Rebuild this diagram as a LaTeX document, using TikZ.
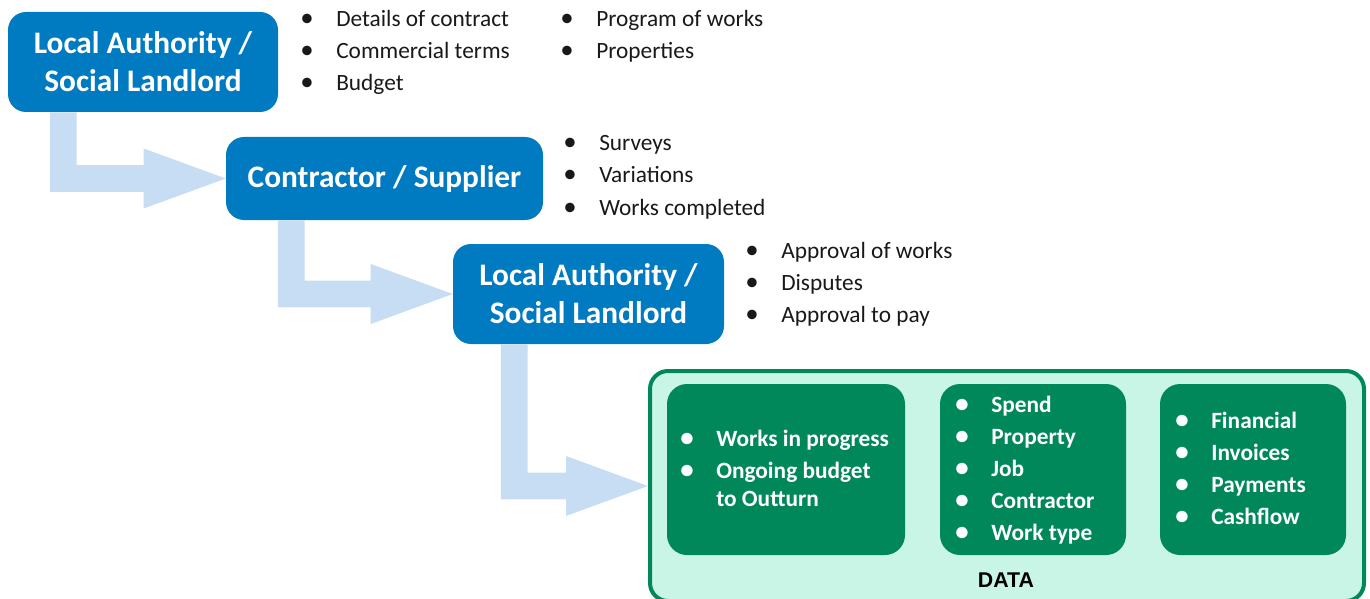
\documentclass[tikz,border=0pt]{standalone}
\usepackage{fontspec}
\setmainfont{Carlito}
\newfontfamily\datafont{Liberation Sans}
\usepackage{xcolor}
\usepackage{tikz}
\usetikzlibrary{calc,positioning}
\definecolor{lablue}{RGB}{0,122,192}
\definecolor{flowblue}{RGB}{198,221,243}
\definecolor{dkgreen}{RGB}{0,135,90}
\definecolor{ltgreen}{RGB}{201,245,230}
\newcommand{\bul}{\makebox[27pt][l]{\scalebox{1.15}{\textbullet}}}
% L-shaped block arrow: from top of shaft (#1) to tip (#2)
\newcommand{\blockarrow}[2]{%
  \fill[flowblue] let \p1=(#1), \p2=(#2) in
    (\x1-10.1pt,\y1) -- (\x1+10.1pt,\y1) -- (\x1+10.1pt,\y2+10.1pt) -- (\x2-61.5pt,\y2+10.1pt)
    -- (\x2-61.5pt,\y2+22.5pt) -- (\x2,\y2) -- (\x2-61.5pt,\y2-22.5pt) -- (\x2-61.5pt,\y2-10.1pt)
    -- (\x1-10.1pt,\y2-10.1pt) -- cycle;}

\begin{document}
\begin{tikzpicture}[x=0.75pt,y=-0.75pt,
  party/.style={fill=lablue,rounded corners=13.5pt,text=white,align=center,
    font=\fontsize{23.5pt}{28.5pt}\selectfont\bfseries,inner sep=0pt},
  item/.style={anchor=base west,inner sep=0pt,font=\fontsize{17.5pt}{24pt}\selectfont,text=black!90},
  gitem/.style={item,text=white,font=\fontsize{17.5pt}{24pt}\selectfont\bfseries},
  gbox/.style={fill=dkgreen,rounded corners=15pt,minimum height=128.25pt,inner sep=0pt}]
  \useasboundingbox (0,0) rectangle (1370,599);

  % parties
  \node[party,minimum width=202.5pt,minimum height=75pt] (la1) at (143,62) {Local Authority /\\Social Landlord};
  \node[party,minimum width=237.75pt,minimum height=62.25pt] (cs) at (384.5,178.5) {Contractor / Supplier};
  \node[party,minimum width=203.25pt,minimum height=75pt] (la2) at (588.5,294) {Local Authority /\\Social Landlord};

  % data panel
  \node[draw=dkgreen,line width=3pt,fill=ltgreen,rounded corners=13.5pt,
    minimum width=535.5pt,minimum height=172.5pt] (data) at (1007,486) {};
  \node[gbox,minimum width=178.5pt] (g1) at (786,469.5) {};
  \node[gbox,minimum width=139.5pt] (g2) at (1033,469.5) {};
  \node[gbox,minimum width=139.5pt] (g3) at (1253,469.5) {};
  \node[font=\datafont\fontsize{16pt}{18pt}\selectfont\bfseries,inner sep=0pt] (dlabel) at (1006,580) {DATA};

  % flow arrows
  \coordinate (s1) at ($(la1.south west)+(55.5,0)$);
  \coordinate (s2) at ($(cs.south west)+(65.5,0)$);
  \coordinate (s3) at ($(la2.south west)+(61.5,0)$);
  \blockarrow{s1}{cs.west}
  \blockarrow{s2}{la2.west}
  \blockarrow{s3}{data.west}

  % bullet lists
  \foreach \txt [count=\i] in {Details of contract,Commercial terms,Budget}
    \node[item] (p\i) at (300,27+32*\i-32) {\bul\txt};
  \foreach \txt [count=\i] in {Program of works,Properties}
    \node[item] (q\i) at (560,27+32*\i-32) {\bul\txt};
  \foreach \txt [count=\i] in {Surveys,Variations,Works completed}
    \node[item] (c\i) at (563,151+32*\i-32) {\bul\txt};
  \foreach \txt [count=\i] in {Approval of works,Disputes,Approval to pay}
    \node[item] (r\i) at (745,258+32*\i-32) {\bul\txt};

  \node[gitem] (w1) at (680,446) {\bul Works in progress};
  \node[gitem] (w2) at (680,478) {\bul Ongoing budget};
  \node[gitem] (w3) at (680,506) {\hspace*{27pt}to Outturn};
  \foreach \txt [count=\i] in {Spend,Property,Job,Contractor,Work type}
    \node[gitem] (k\i) at (955,412+32*\i-32) {\bul\txt};
  \foreach \txt [count=\i] in {Financial,Invoices,Payments,Cashflow}
    \node[gitem] (f\i) at (1175,428+32*\i-32) {\bul\txt};
\end{tikzpicture}
\end{document}
